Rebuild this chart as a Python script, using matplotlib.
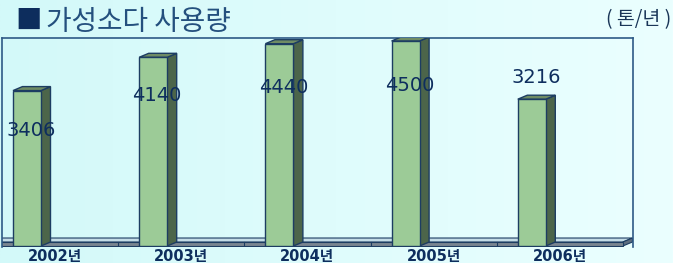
import numpy as np
import matplotlib
matplotlib.use('Agg')
import matplotlib.pyplot as plt
from matplotlib.colors import LinearSegmentedColormap
from matplotlib.patches import Polygon

plt.rcParams['font.family'] = ['Noto Sans CJK KR', 'DejaVu Sans']

years = ['2002년', '2003년', '2004년', '2005년', '2006년']
usage = [3406, 4140, 4440, 4500, 3216]
label_y = [2515, 3290, 3465, 3510, 3685]

navy = '#1d3d62'
front_c = '#9ccb97'
side_c = '#4c654a'
top_c = '#6f8c64'

fig = plt.figure(figsize=(6.73, 2.63), dpi=100)

# background gradient
bg = fig.add_axes([0, 0, 1, 1], zorder=-1)
cmap = LinearSegmentedColormap.from_list('bg', ['#d3f9f9', '#ebffff'])
bg.imshow(np.linspace(0, 1, 256).reshape(1, -1), aspect='auto', cmap=cmap,
          extent=[0, 1, 0, 1])
bg.axis('off')

W, H = 673, 263
ax = fig.add_axes([2 / W, (H - 247) / H, 631 / W, 209 / H])
ax.patch.set_alpha(0)
ax.set_xlim((2 - 55) / 126.2, (633 - 55) / 126.2)
ax.set_ylim(-44, 4566)

# depth of the 3d effect in data units
dx = 9.5 / 126.2
dy = 4 / 0.04533
bw = 0.222
off = -0.222

# floor slab
x0, x1 = ax.get_xlim()[0] - 0.2, 4.5
floor_top = 66
floor_bot = -22
ax.add_patch(Polygon([(x0, floor_top), (x1, floor_top), (x1 + dx, floor_top + dy),
                      (x0 + dx, floor_top + dy)], closed=True,
                     facecolor='#c4dce6', edgecolor=navy, lw=0.8, zorder=1))
ax.add_patch(Polygon([(x1, floor_bot), (x1 + dx, floor_bot + dy), (x1 + dx, floor_top + dy),
                      (x1, floor_top)], closed=True,
                     facecolor='#5e6e80', edgecolor=navy, lw=0.8, zorder=1))
ax.add_patch(Polygon([(x0, floor_bot), (x1, floor_bot), (x1, floor_top), (x0, floor_top)],
                     closed=True, facecolor='#7a8590', edgecolor=navy, lw=0.8, zorder=1))
for i in range(4):
    ax.plot([i + 0.5, i + 0.5], [floor_bot, floor_top], color=navy, lw=0.8, zorder=1)

# 3d bars
for i, v in enumerate(usage):
    xl = i + off - bw / 2
    xr = i + off + bw / 2
    ax.add_patch(Polygon([(xr, -22), (xr + dx, -22 + dy), (xr + dx, v + dy), (xr, v)],
                         closed=True, facecolor=side_c, edgecolor=navy, lw=1, zorder=3))
    ax.add_patch(Polygon([(xl, v), (xr, v), (xr + dx, v + dy), (xl + dx, v + dy)],
                         closed=True, facecolor=top_c, edgecolor=navy, lw=1, zorder=3))
ax.bar([i + off for i in range(len(usage))], [v + 22 for v in usage], bottom=-22,
       width=bw, color=front_c, edgecolor=navy, lw=1, zorder=4)

for i, v in enumerate(usage):
    ax.text(i - 0.19, label_y[i], str(v), ha='center', va='center', fontsize=14,
            family=['DejaVu Sans'], color='#0e2e5e', zorder=6)

for s in ['left', 'top', 'right']:
    ax.spines[s].set_color('#2e5a86')
    ax.spines[s].set_linewidth(1.2)
ax.spines['bottom'].set_visible(False)
ax.set_yticks([])
ax.set_xticks(range(len(years)))
ax.set_xticklabels(years, fontsize=10.5, fontweight='bold', color='#0e2e5e',
                   family=['DejaVu Sans', 'Noto Sans CJK KR'])
ax.tick_params(axis='x', length=0, pad=1.5)

fig.text(15 / W, 1 - 21 / H, '■', fontsize=19, color='#0d2d5d', va='center', ha='left')
fig.text(46 / W, 1 - 22 / H, '가성소다 사용량', fontsize=20, color='#24507e',
         va='center', ha='left')
fig.text(671 / W, 1 - 20 / H, '( 톤/년 )', fontsize=14, color='#1a3658',
         va='center', ha='right')

fig.savefig('out.png', dpi=100)
